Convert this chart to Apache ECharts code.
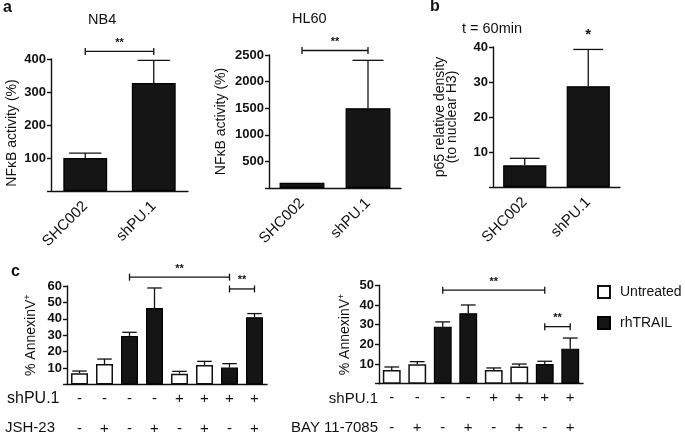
<!DOCTYPE html>
<html><head><meta charset="utf-8">
<script src="https://cdn.jsdelivr.net/npm/echarts@6/dist/echarts.min.js"></script>
<style>html,body{margin:0;padding:0;background:#fff}#c{width:685px;height:439px}</style>
</head><body><div id="c"></div><script>
// ---------- data ----------
const groups = ['SHC002', 'shPU.1'];
const nb4Mean = [100, 327];
const nb4Sd = [15, 69];
const hl60Mean = [100, 1500];
const hl60Sd = [0, 900];
const p65Mean = [6.2, 28.8];
const p65Sd = [2.0, 10.5];

const treatment = ['Untreated','Untreated','rhTRAIL','rhTRAIL','Untreated','Untreated','rhTRAIL','rhTRAIL'];
const shPU1Row = ['-','-','-','-','+','+','+','+'];
const inhibitorRow = ['-','+','-','+','-','+','-','+'];
const jshMean = [6.8, 12.5, 29.6, 46.6, 6.6, 11.9, 10.3, 41.0];
const jshSd = [1.4, 3.0, 2.2, 12.2, 1.4, 2.2, 2.4, 2.2];
const bayMean = [7.0, 9.9, 29.0, 35.8, 7.0, 8.8, 10.0, 17.8];
const baySd = [1.5, 1.3, 2.4, 4.2, 1.0, 1.2, 1.4, 5.4];

// significance: [fromIndex, toIndex, height, mark]
const nb4Sig = [[0, 1, 423, '**']];
const hl60Sig = [[0, 1, 2585, '**']];
const p65Sig = [[1, 1, 43, '*']];
const jshSig = [[2, 6, 65.4, '**'], [6, 7, 58.2, '**']];
const baySig = [[2, 6, 47.5, '**'], [6, 7, 29, '**']];

// ---------- helpers ----------
const FF = '"Liberation Sans", Arial, Helvetica, sans-serif';
const INK = '#111';
const cCats = shPU1Row.map((s, i) => s + '|' + inhibitorRow[i] + '|' + i);

function errSeries(grid, mean, sd, capFrac) {
  return {
    type: 'custom', xAxisIndex: grid, yAxisIndex: grid, z: 5, silent: true,
    data: mean.map((m, i) => [i, m, m + sd[i]]),
    renderItem(params, api) {
      const i = api.value(0), m = api.value(1), t = api.value(2);
      if (!(t > m)) return null;
      const a = api.coord([i, m]), b = api.coord([i, t]);
      const w = api.size([1, 0])[0] * capFrac;
      const st = { stroke: INK, lineWidth: 1.3 };
      return { type: 'group', children: [
        { type: 'line', shape: { x1: a[0], y1: a[1], x2: b[0], y2: b[1] }, style: st },
        { type: 'line', shape: { x1: b[0] - w / 2, y1: b[1], x2: b[0] + w / 2, y2: b[1] }, style: st }
      ]};
    }
  };
}

function sigSeries(grid, sig) {
  return {
    type: 'custom', xAxisIndex: grid, yAxisIndex: grid, z: 6, silent: true, clip: false,
    data: sig.map(s => [s[0], s[1], s[2]]),
    renderItem(params, api) {
      const s = sig[params.dataIndex];
      const p1 = api.coord([api.value(0), api.value(2)]);
      const p2 = api.coord([api.value(1), api.value(2)]);
      const st = { stroke: INK, lineWidth: 1.3 };
      const kids = [];
      if (s[0] !== s[1]) {
        kids.push({ type: 'line', shape: { x1: p1[0], y1: p1[1], x2: p2[0], y2: p2[1] }, style: st });
        kids.push({ type: 'line', shape: { x1: p1[0], y1: p1[1] - 3.5, x2: p1[0], y2: p1[1] + 3.5 }, style: st });
        kids.push({ type: 'line', shape: { x1: p2[0], y1: p2[1] - 3.5, x2: p2[0], y2: p2[1] + 3.5 }, style: st });
      }
      kids.push({ type: 'text', x: (p1[0] + p2[0]) / 2, y: p1[1] - (s[0] !== s[1] ? 3 : -6),
        style: { text: s[3], align: 'center', verticalAlign: 'bottom',
          fontSize: s[0] !== s[1] ? 11 : 15, fontWeight: 'bold', fontFamily: FF, fill: INK } });
      return { type: 'group', children: kids };
    }
  };
}

function yAx(grid, max, interval, name, gap, nameStyle) {
  return {
    type: 'value', gridIndex: grid, min: 0, max: max, interval: interval,
    name: name, nameLocation: 'middle', nameGap: gap, nameRotate: 90,
    nameTextStyle: Object.assign({ fontSize: 14, color: INK, fontFamily: FF }, nameStyle || {}),
    axisLine: { show: true, lineStyle: { color: INK, width: 1.4 } },
    axisTick: { show: true, length: 4, lineStyle: { color: INK, width: 1.4 } },
    splitLine: { show: false },
    axisLabel: { fontSize: 13, fontWeight: 'bold', color: INK, margin: 5, fontFamily: FF,
      formatter: v => (v === 0 ? '' : String(v)) }
  };
}

function xAxGroups(grid) {
  return {
    type: 'category', gridIndex: grid, data: groups,
    axisLine: { lineStyle: { color: INK, width: 1.4 } },
    axisTick: { alignWithLabel: true, length: 5, lineStyle: { color: INK, width: 1.4 } },
    axisLabel: { rotate: 45, fontSize: 15, color: INK, margin: 13, interval: 0, fontFamily: FF }
  };
}

function xAxC(grid) {
  return {
    type: 'category', gridIndex: grid, data: cCats,
    axisLine: { lineStyle: { color: INK, width: 1.4 } },
    axisTick: { alignWithLabel: true, length: 3, lineStyle: { color: INK, width: 1.2 } },
    axisLabel: { interval: 0, margin: 4, color: INK, fontFamily: FF,
      formatter: v => { const p = v.split('|'); return '{a|' + p[0] + '}\n{b|' + p[1] + '}'; },
      rich: { a: { fontSize: 15, lineHeight: 20, color: INK, fontFamily: FF },
              b: { fontSize: 15, lineHeight: 40, color: INK, fontFamily: FF } } }
  };
}

const darkStyle = { color: '#151515', borderColor: '#000', borderWidth: 1.2 };
const whiteStyle = { color: '#fff', borderColor: INK, borderWidth: 1.5 };

function simpleBars(grid, mean, width) {
  return { type: 'bar', xAxisIndex: grid, yAxisIndex: grid, data: mean, barWidth: width,
    itemStyle: darkStyle, silent: true };
}
function cBars(grid, mean, width) {
  return [
    { name: 'Untreated', type: 'bar', xAxisIndex: grid, yAxisIndex: grid, barWidth: width, barGap: '-100%',
      data: mean.map((m, i) => treatment[i] === 'Untreated' ? m : '-'), itemStyle: whiteStyle, silent: true },
    { name: 'rhTRAIL', type: 'bar', xAxisIndex: grid, yAxisIndex: grid, barWidth: width, barGap: '-100%',
      data: mean.map((m, i) => treatment[i] === 'rhTRAIL' ? m : '-'), itemStyle: darkStyle, silent: true }
  ];
}

const supName = '% AnnexinV{sup|+}';
const supStyle = { fontSize: 14, lineHeight: 16, rich: { sup: { fontSize: 9, verticalAlign: 'top', lineHeight: 16, fontFamily: FF, color: INK } } };

const chart = echarts.init(document.getElementById('c'), null, { renderer: 'canvas' });
chart.setOption({
  backgroundColor: '#fff',
  animation: false,
  textStyle: { fontFamily: FF },
  title: [
    { text: 'a', left: 3, top: 0, padding: 0, textStyle: { fontSize: 16, fontWeight: 'bold', color: INK, fontFamily: FF } },
    { text: 'b', left: 430, top: -1, padding: 0, textStyle: { fontSize: 16, fontWeight: 'bold', color: INK, fontFamily: FF } },
    { text: 'c', left: 11, top: 264, padding: 0, textStyle: { fontSize: 16, fontWeight: 'bold', color: INK, fontFamily: FF } },
    { text: 'NB4', left: 88, top: 12, padding: 0, textStyle: { fontSize: 14.5, fontWeight: 'normal', color: INK, fontFamily: FF } },
    { text: 'HL60', left: 292, top: 11, padding: 0, textStyle: { fontSize: 14.5, fontWeight: 'normal', color: INK, fontFamily: FF } },
    { text: 't = 60min', left: 462, top: 21, padding: 0, textStyle: { fontSize: 14.5, fontWeight: 'normal', color: INK, fontFamily: FF } }
  ],
  legend: {
    orient: 'vertical', left: 597, top: 285, padding: 0, itemWidth: 12, itemHeight: 12, itemGap: 17,
    selectedMode: false, icon: 'rect', data: ['Untreated', 'rhTRAIL'],
    textStyle: { fontSize: 14, color: INK, fontFamily: FF, padding: [0, 0, 0, 5] }
  },
  grid: [
    { left: 51, top: 59, width: 137, height: 132 },
    { left: 269, top: 55, width: 132, height: 133 },
    { left: 493, top: 47, width: 127, height: 140 },
    { left: 67, top: 286, width: 200, height: 98.5 },
    { left: 379, top: 285.3, width: 204, height: 98.4 }
  ],
  xAxis: [xAxGroups(0), xAxGroups(1), xAxGroups(2), xAxC(3), xAxC(4)],
  yAxis: [
    yAx(0, 400, 100, 'NFκB activity (%)', 32, { padding: [0, 16, 0, 0] }),
    yAx(1, 2500, 500, 'NFκB activity (%)', 41),
    yAx(2, 40, 10, 'p65 relative density\n(to nuclear H3)', 35, { lineHeight: 12 }),
    yAx(3, 60, 10, supName, 28, supStyle),
    yAx(4, 50, 10, supName, 26, supStyle)
  ],
  graphic: [
    { type: 'text', x: 7, y: 399, style: { text: 'shPU.1', fontSize: 16, fill: INK, fontFamily: FF, align: 'left', verticalAlign: 'middle' } },
    { type: 'text', x: 5, y: 428, style: { text: 'JSH-23', fontSize: 15, fill: INK, fontFamily: FF, align: 'left', verticalAlign: 'middle' } },
    { type: 'text', x: 378, y: 399, style: { text: 'shPU.1', fontSize: 15, fill: INK, fontFamily: FF, align: 'right', verticalAlign: 'middle' } },
    { type: 'text', x: 378, y: 428, style: { text: 'BAY 11-7085', fontSize: 15, fill: INK, fontFamily: FF, align: 'right', verticalAlign: 'middle' } }
  ],
  series: [
    simpleBars(0, nb4Mean, '64%'), errSeries(0, nb4Mean, nb4Sd, 0.47), sigSeries(0, nb4Sig),
    simpleBars(1, hl60Mean, '68%'), errSeries(1, hl60Mean, hl60Sd, 0.47), sigSeries(1, hl60Sig),
    simpleBars(2, p65Mean, '68%'), errSeries(2, p65Mean, p65Sd, 0.47), sigSeries(2, p65Sig),
    ...cBars(3, jshMean, '68%'), errSeries(3, jshMean, jshSd, 0.58), sigSeries(3, jshSig),
    ...cBars(4, bayMean, '70%'), errSeries(4, bayMean, baySd, 0.58), sigSeries(4, baySig)
  ]
});
</script></body></html>
